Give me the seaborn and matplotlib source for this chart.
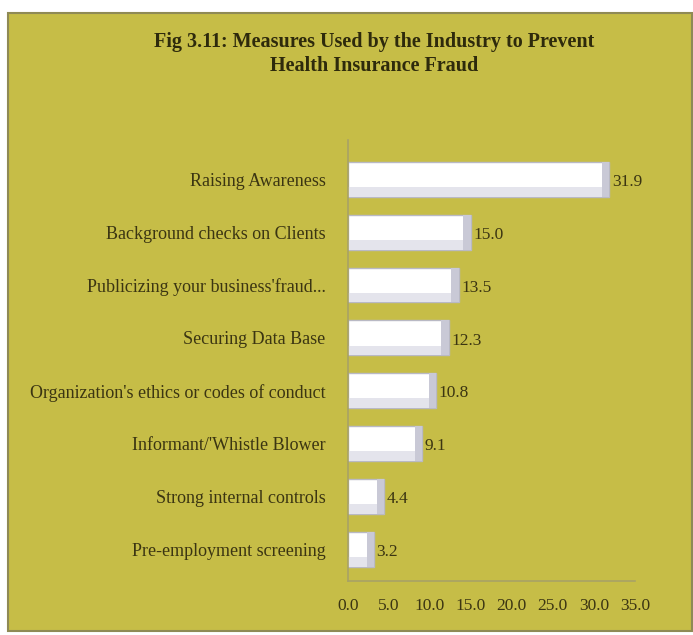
import matplotlib
matplotlib.use("Agg")
import matplotlib.pyplot as plt
import pandas as pd
import seaborn as sns
from matplotlib.patches import Rectangle

measures = [
    "Raising Awareness",
    "Background checks on Clients",
    "Publicizing your business'fraud...",
    "Securing Data Base",
    "Organization's ethics or codes of conduct",
    "Informant/'Whistle Blower",
    "Strong internal controls",
    "Pre-employment screening",
]
percent = [31.9, 15.0, 13.5, 12.3, 10.8, 9.1, 4.4, 3.2]
x_ticks = [0, 5, 10, 15, 20, 25, 30, 35]

BG = "#c6bd47"
TEXT = "#3b3512"
AXIS = "#a8a266"

sns.set_theme(style="white")
plt.rcParams["font.family"] = ["Liberation Serif", "DejaVu Serif"]

df = pd.DataFrame({"measure": measures, "percent": percent})

fig = plt.figure(figsize=(6.93, 6.35), dpi=100)
fig.patch.set_facecolor("white")
# olive panel with a thin border, offset like the reference
fig.add_artist(Rectangle((8 / 693, 4 / 635), 684 / 693, 618 / 635,
                         transform=fig.transFigure, facecolor=BG,
                         edgecolor="#8f8a55", linewidth=1.5, zorder=0))

ax = fig.add_axes([0.502, 0.085, 0.414, 0.695])
ax.set_facecolor("none")

sns.barplot(data=df, x="percent", y="measure", ax=ax, color="white",
            edgecolor="#b9b9c4", linewidth=1.0, width=0.66, saturation=1)

# shaded right edge and lower band to hint at the cylinder look
for patch in ax.patches:
    x0, y0 = patch.get_x(), patch.get_y()
    w, h = patch.get_width(), patch.get_height()
    ax.add_patch(Rectangle((x0 + w - 0.9, y0), 0.9, h, facecolor="#c9c9d6",
                           edgecolor="none", zorder=patch.get_zorder() + 0.1))
    ax.add_patch(Rectangle((x0, y0 + h * 0.72), w - 0.9, h * 0.28, facecolor="#e4e4ec",
                           edgecolor="none", zorder=patch.get_zorder() + 0.1))

for i, v in enumerate(percent):
    ax.text(v + 0.3, i + 0.05, f"{v:.1f}", va="center", ha="left", fontsize=12.5, color=TEXT)

ax.set_xlim(0, 35)
ax.set_ylim(len(measures) - 0.4, -0.75)
ax.set_xticks(x_ticks)
ax.set_xticklabels([f"{t:.1f}" for t in x_ticks], fontsize=12.5, color=TEXT)
ax.tick_params(axis="y", labelsize=13, labelcolor=TEXT, length=0, pad=16)
ax.tick_params(axis="x", length=3, color=AXIS, pad=9)
ax.set_xlabel("")
ax.set_ylabel("")

for side in ["top", "right"]:
    ax.spines[side].set_visible(False)
for side in ["left", "bottom"]:
    ax.spines[side].set_color(AXIS)
    ax.spines[side].set_linewidth(1.2)

fig.text(0.54, 0.915, "Fig 3.11: Measures Used by the Industry to Prevent\nHealth Insurance Fraud",
         ha="center", va="center", fontsize=14.5, fontweight="bold", color="#2e2a0c",
         linespacing=1.25)

fig.savefig("out.png", dpi=100, facecolor=fig.get_facecolor())
